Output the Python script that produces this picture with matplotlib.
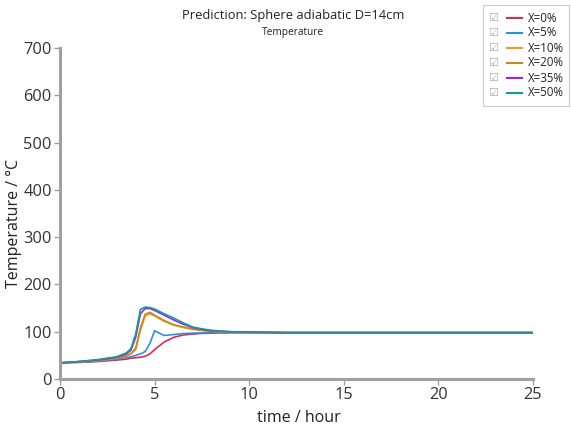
import matplotlib
matplotlib.use("Agg")
import matplotlib.pyplot as plt
from matplotlib.lines import Line2D
from matplotlib.patches import Rectangle

plt.rcParams['font.family'] = ['Open Sans', 'DejaVu Sans']

# time grid (hours)
t = [0, 1, 2, 3, 3.5, 3.75, 4, 4.25, 4.5, 4.75, 5, 5.5, 6, 6.5, 7, 7.5, 8, 9, 10, 12, 15, 20, 25]

temp_x0 = [34, 35, 37, 40, 42, 44, 45, 46, 48, 53, 62, 78, 88, 93, 95, 96.5, 97, 98, 98, 98, 98, 98, 98]
temp_x5 = [34, 36, 38, 42, 45, 47, 50, 53, 58, 75, 102, 92, 94, 96, 97, 97.5, 98, 98, 98, 98, 98, 98, 98]
temp_x10 = [34, 36, 39, 44, 48, 53, 62, 102, 133, 138, 133, 122, 114, 109, 105, 103, 101, 99, 98.5, 98, 98, 98, 98]
temp_x20 = [34, 36, 39, 45, 49, 54, 65, 108, 137, 141, 135, 124, 115, 110, 106, 103, 101, 99, 98.5, 98, 98, 98, 98]
temp_x35 = [34, 37, 40, 46, 53, 61, 88, 138, 149, 149, 145, 135, 125, 116, 109, 105, 102, 100, 99, 98, 98, 98, 98]
temp_x50 = [34, 37, 41, 47, 55, 64, 95, 147, 152, 151, 148, 138, 129, 119, 110, 106, 103, 100, 99, 98, 98, 98, 98]

labels = ['X=0%', 'X=5%', 'X=10%', 'X=20%', 'X=35%', 'X=50%']
colors = ['#dc2a4a', '#2e8fe8', '#f59b2a', '#c08a1e', '#9b27d9', '#139a9a']
series = [temp_x0, temp_x5, temp_x10, temp_x20, temp_x35, temp_x50]

fig = plt.figure(figsize=(5.71, 4.29), dpi=100)
ax = fig.add_axes([60 / 571, 1 - 379 / 429, (533 - 60) / 571, (379 - 48) / 429])

for vals, c in zip(series, colors):
    ax.plot(t, vals, color=c, lw=1.2)

ax.set_xlim(0, 25)
ax.set_ylim(0, 700)
ax.set_xticks([0, 5, 10, 15, 20, 25])
ax.set_yticks(range(0, 701, 100))
for s in ['top', 'right']:
    ax.spines[s].set_visible(False)
for s in ['left', 'bottom']:
    ax.spines[s].set_color('#a0a0a0')
    ax.spines[s].set_linewidth(2.2)
ax.tick_params(colors='#a0a0a0', labelcolor='#333333', labelsize=11.8, length=4, width=1, pad=2)
ax.set_xlabel('time / hour', fontsize=11.5, color='#222222')
ax.set_ylabel('Temperature / °C', fontsize=11.5, color='#222222')
ax.xaxis.set_label_coords(0.504, -0.095)
ax.yaxis.set_label_coords(-0.08, 0.47)

fig.text(293 / 571, 1 - 15 / 429, 'Prediction: Sphere adiabatic D=14cm', ha='center', va='center',
         fontsize=9.3, color='#222222')
fig.text(293 / 571, 1 - 33 / 429, 'Temperature', ha='center', va='center', fontsize=7.3, color='#222222')

# legend box with checkboxes
fig.patches.append(Rectangle((483 / 571, 1 - 106 / 429), 86 / 571, 101 / 429, transform=fig.transFigure,
                             facecolor='white', edgecolor='#cccccc', lw=0.8))
for i, (lab, c) in enumerate(zip(labels, colors)):
    y = 1 - (18 + i * 15) / 429
    fig.text(493 / 571, y, '☑', ha='center', va='center', fontsize=8, color='#aaaaaa',
             family='DejaVu Sans')
    fig.add_artist(Line2D([507 / 571, 522 / 571], [y, y], color=c, lw=1.5, transform=fig.transFigure))
    fig.text(528 / 571, y, lab, ha='left', va='center', fontsize=8.3, color='#222222')

fig.savefig('out.png', dpi=100)
